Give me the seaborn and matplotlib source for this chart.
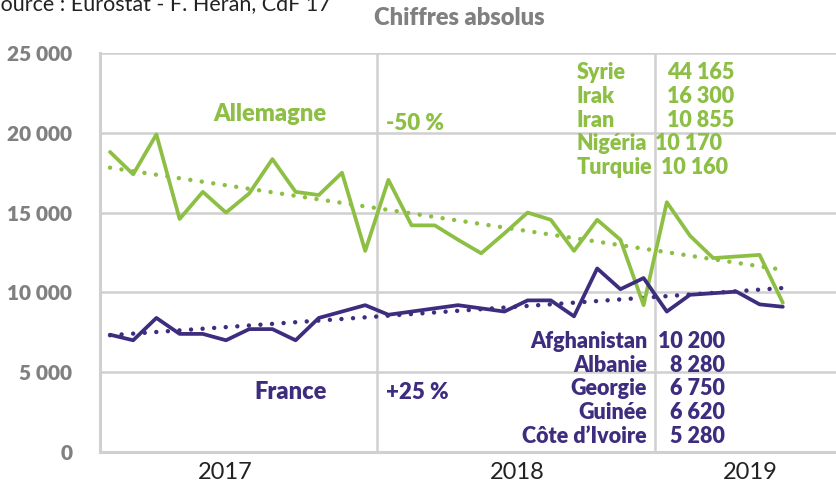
import numpy as np
import pandas as pd
import matplotlib
matplotlib.use("Agg")
import matplotlib.pyplot as plt
import seaborn as sns

# monthly values, Jan 2017 -> Jun 2019
months = pd.date_range("2017-01-01", periods=30, freq="MS")
allemagne = [18800, 17400, 19900, 14600, 16300, 15000, 16200, 18350, 16300, 16100, 17500, 12600,
             17050, 14200, 14200, 13300, 12450, 13700, 15000, 14550, 12600, 14550, 13300, 9200,
             15650, 13550, 12150, 12250, 12350, 9350]
france = [7350, 7000, 8400, 7400, 7400, 7000, 7700, 7700, 7000, 8400, 8800, 9200,
          8600, 8800, 9000, 9200, 9000, 8800, 9500, 9500, 8500, 11500, 10200, 10900,
          8800, 9850, 9950, 10050, 9250, 9100]

years = ["2017", "2018", "2019"]
year_pos = [4.96, 17.56, 27.6]

top_de = ["Syrie", "Irak", "Iran", "Nigéria", "Turquie"]
top_de_val = ["44 165", "16 300", "10 855", "10 170", "10 160"]
top_fr = ["Afghanistan", "Albanie", "Georgie", "Guinée", "Côte d\u2019Ivoire"]
top_fr_val = ["10 200", "8 280", "6 750", "6 620", "5 280"]

green = "#8cbf44"
purple = "#3e2d7e"
grey = "#808080"

df = pd.DataFrame({"mois": months, "idx": np.arange(len(months)),
                   "Allemagne": allemagne, "France": france})

sns.set_style("white")
plt.rcParams["font.family"] = ["Lato", "DejaVu Sans"]

fig = plt.figure(figsize=(8.36, 4.83), dpi=100)
ax = fig.add_axes([100 / 836, 31 / 483, 736 / 836, 399 / 483])

# grid
for v in [5000, 10000, 15000, 20000, 25000]:
    ax.axhline(v, color="#d0d0d0", lw=1.8, zorder=0)
for v in [11.5, 23.5]:
    ax.axvline(v, color="#d0d0d0", lw=1.8, zorder=0)

sns.lineplot(data=df, x="idx", y="Allemagne", color=green, lw=2.7, ax=ax, zorder=3)
sns.lineplot(data=df, x="idx", y="France", color=purple, lw=2.7, ax=ax, zorder=3)
sns.regplot(data=df, x="idx", y="Allemagne", scatter=False, ci=None, ax=ax,
            line_kws=dict(color=green, lw=3.2, ls=(0, (0.01, 2.6)), dash_capstyle="round", zorder=2))
sns.regplot(data=df, x="idx", y="France", scatter=False, ci=None, ax=ax,
            line_kws=dict(color=purple, lw=3.2, ls=(0, (0.01, 2.6)), dash_capstyle="round", zorder=2))

ax.set_xlim(-10 / 23.2, 726 / 23.2)
ax.set_ylim(0, 25000)
ax.set_xticks(year_pos)
ax.set_xticklabels(years, fontsize=17, color="#222222")
ax.set_yticks(range(0, 25001, 5000))
ax.set_yticklabels([f"{v:,}".replace(",", " ") for v in range(0, 25001, 5000)],
                   fontsize=15, fontweight="heavy", color=grey)
ax.tick_params(length=0, pad=20)
ax.tick_params(axis="x", pad=7)
ax.set_xlabel("")
ax.set_ylabel("")
for s in ["top", "right"]:
    ax.spines[s].set_visible(False)
for s in ["left", "bottom"]:
    ax.spines[s].set_color("#d0d0d0")
    ax.spines[s].set_linewidth(2.2)

# annotations
fs = 15.5
ax.text(6.9, 21200, "Allemagne", color=green, fontsize=17, fontweight="heavy", ha="center", va="center")
ax.text(11.9, 20600, "-50 %", color=green, fontsize=16, fontweight="heavy", ha="left", va="center")
ax.text(7.8, 3750, "France", color=purple, fontsize=17, fontweight="heavy", ha="center", va="center")
ax.text(11.9, 3750, "+25 %", color=purple, fontsize=16, fontweight="heavy", ha="left", va="center")

de_vx = [24.0, 24.0, 24.0, 23.5, 23.75]
for i, (n, v) in enumerate(zip(top_de, top_de_val)):
    y = 23800 - i * 1500
    ax.text(20.1, y, n, color=green, fontsize=fs, fontweight="heavy", ha="left", va="center")
    ax.text(de_vx[i], y, v, color=green, fontsize=fs, fontweight="heavy", ha="left", va="center")

for i, (n, v) in enumerate(zip(top_fr, top_fr_val)):
    y = 6950 - i * 1500
    ax.text(23.15, y, n, color=purple, fontsize=fs, fontweight="heavy", ha="right", va="center")
    ax.text(26.5, y, v, color=purple, fontsize=fs, fontweight="heavy", ha="right", va="center")

fig.text(459 / 836, 1 - 18 / 483, "Chiffres absolus", color=grey, fontsize=17,
         fontweight="heavy", ha="center", va="center")
fig.text(-11 / 836, 1 - 10 / 483, "Source : Eurostat - F. Héran, CdF 17", color="#222222",
         fontsize=15.5, ha="left", va="baseline")

fig.savefig("out.png", dpi=100)
